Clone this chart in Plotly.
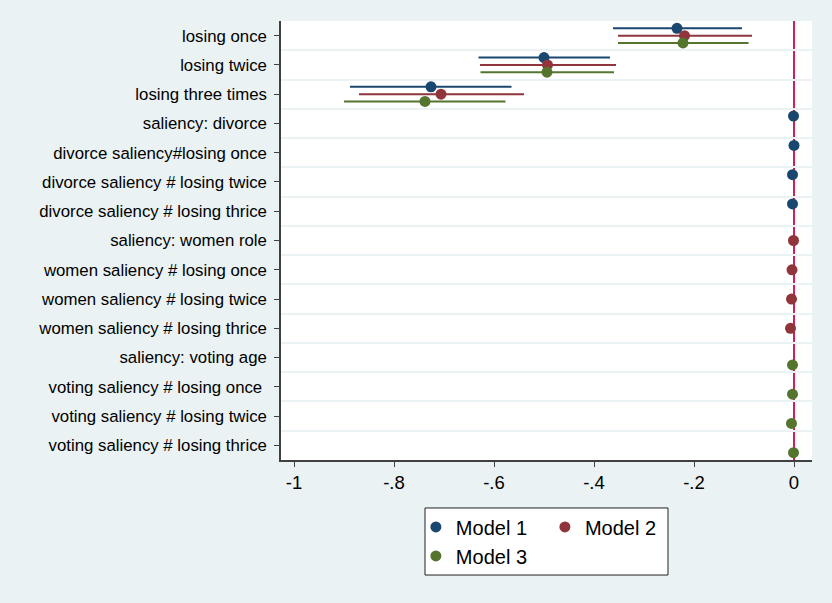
import plotly.graph_objects as go

categories = [
    "losing once", "losing twice", "losing three times", "saliency: divorce",
    "divorce saliency#losing once", "divorce saliency # losing twice",
    "divorce saliency # losing thrice", "saliency: women role",
    "women saliency # losing once", "women saliency # losing twice",
    "women saliency # losing thrice", "saliency: voting age",
    "voting saliency # losing once ", "voting saliency # losing twice",
    "voting saliency # losing thrice",
]

model_names = ["Model 1", "Model 2", "Model 3"]

# point estimates (None = not in model)
m1_est = [-0.234, -0.500, -0.726, -0.001, 0.000, -0.003, -0.003,
          None, None, None, None, None, None, None, None]
m1_lo = [-0.362, -0.631, -0.888, -0.003, -0.002, -0.005, -0.005,
         None, None, None, None, None, None, None, None]
m1_hi = [-0.104, -0.368, -0.565, 0.001, 0.002, -0.001, -0.001,
         None, None, None, None, None, None, None, None]

m2_est = [-0.219, -0.493, -0.706, None, None, None, None,
          -0.001, -0.004, -0.005, -0.007, None, None, None, None]
m2_lo = [-0.352, -0.628, -0.870, None, None, None, None,
         -0.003, -0.006, -0.007, -0.009, None, None, None, None]
m2_hi = [-0.084, -0.356, -0.540, None, None, None, None,
         0.001, -0.002, -0.003, -0.005, None, None, None, None]

m3_est = [-0.222, -0.494, -0.738, None, None, None, None,
          None, None, None, None, -0.003, -0.003, -0.005, -0.001]
m3_lo = [-0.352, -0.627, -0.900, None, None, None, None,
         None, None, None, None, -0.005, -0.005, -0.007, -0.003]
m3_hi = [-0.091, -0.360, -0.577, None, None, None, None,
         None, None, None, None, -0.001, -0.001, -0.003, 0.001]

x_tickvals = [-1, -0.8, -0.6, -0.4, -0.2, 0]
x_ticktext = ["-1", "-.8", "-.6", "-.4", "-.2", "0"]

colors = ["#1a476f", "#90353b", "#55752f"]
offsets = [-0.25, 0.0, 0.25]
legends = ["legend", "legend2", "legend"]

fig = go.Figure()
for name, est, lo, hi, col, off, lg in zip(
        model_names, [m1_est, m2_est, m3_est], [m1_lo, m2_lo, m3_lo],
        [m1_hi, m2_hi, m3_hi], colors, offsets, legends):
    xs, ys, plus, minus = [], [], [], []
    for i, (e, l, h) in enumerate(zip(est, lo, hi)):
        if e is None:
            continue
        xs.append(e)
        ys.append(i + off)
        plus.append(h - e)
        minus.append(e - l)
    fig.add_trace(go.Scatter(
        x=xs, y=ys, mode="markers", name=name, legend=lg,
        marker=dict(color=col, size=11),
        error_x=dict(type="data", array=plus, arrayminus=minus,
                     color=col, thickness=2, width=0, symmetric=False),
    ))

fig.add_shape(type="line", x0=0, x1=0, y0=0, y1=1, xref="x", yref="paper",
              line=dict(color="#d42050", width=2), layer="below")

# legend frame
fig.add_shape(type="rect", xref="paper", yref="paper",
              x0=0.2712, x1=0.7288, y0=-0.262, y1=-0.1093,
              fillcolor="white", line=dict(color="#222222", width=1),
              layer="above")

font_main = "Liberation Sans, Arial, sans-serif"

fig.update_layout(
    width=832, height=603,
    margin=dict(l=281, r=20, t=21, b=143),
    paper_bgcolor="#eaf2f3",
    plot_bgcolor="white",
    font=dict(family=font_main, color="black"),
    showlegend=True,
    legend=dict(x=0.254, y=-0.108, xanchor="left", yanchor="top",
                orientation="v", bgcolor="rgba(0,0,0,0)", borderwidth=0,
                font=dict(size=20, family=font_main), itemwidth=30),
    legend2=dict(x=0.497, y=-0.108, xanchor="left", yanchor="top",
                 orientation="v", bgcolor="rgba(0,0,0,0)", borderwidth=0,
                 font=dict(size=20, family=font_main), itemwidth=30),
    xaxis=dict(
        range=[-1.026, 0.036], tickvals=x_tickvals, ticktext=x_ticktext,
        showgrid=False, zeroline=False, showline=True, linecolor="#404040",
        linewidth=1.5, ticks="outside", ticklen=5, tickcolor="#404040",
        tickwidth=1.2, tickfont=dict(size=18.5, family=font_main),
    ),
    yaxis=dict(
        range=[14.5, -0.5], tickvals=list(range(len(categories))),
        ticktext=categories, showgrid=False, zeroline=False, showline=True,
        linecolor="#404040", linewidth=1.5, ticks="outside", ticklen=5,
        tickcolor="#404040", tickwidth=1.2,
        tickfont=dict(size=16.8, family=font_main), ticklabelstandoff=4,
        minor=dict(tick0=0.5, dtick=1, showgrid=True, gridcolor="#eaf2f3",
                   gridwidth=2, ticks=""),
    ),
)

fig.write_html(
    "out.html",
    config={"displayModeBar": False},
    post_script="document.body.style.margin='0';document.body.style.overflow='hidden';",
)
